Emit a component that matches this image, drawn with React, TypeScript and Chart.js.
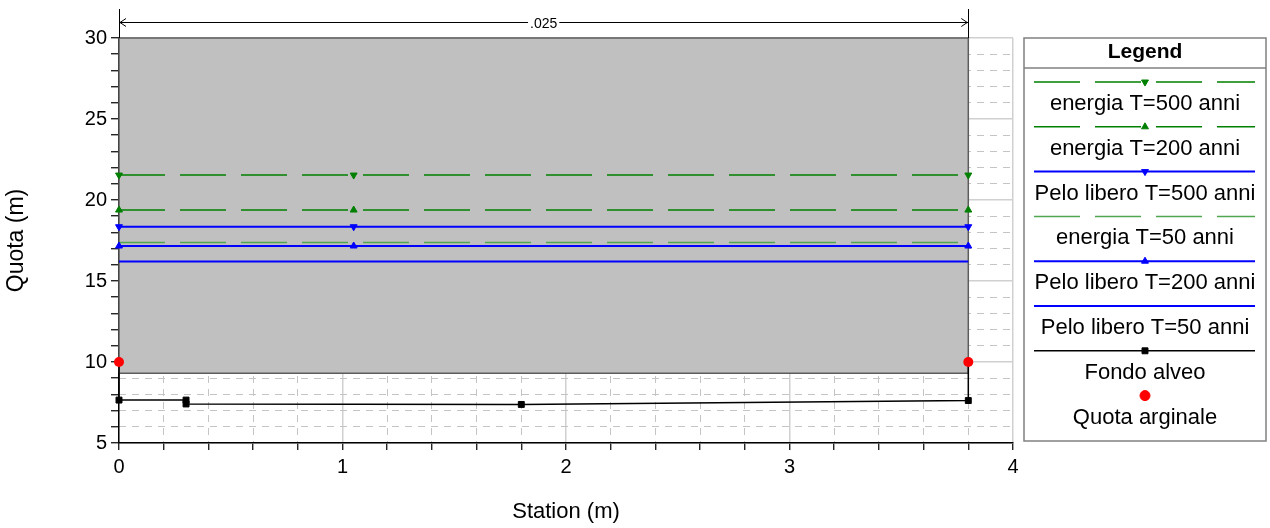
import React, { useEffect, useRef } from 'react';
import { Chart, registerables } from 'chart.js';

Chart.register(...registerables);

// ---------------- data ----------------
const wsStations = [0, 1.05, 3.8];
const energia500 = [21.54, 21.54, 21.54];
const energia200 = [19.38, 19.38, 19.38];
const pelo500 = [18.35, 18.35, 18.35];
const energia50 = [17.37, 17.37, 17.37];
const pelo200 = [17.16, 17.16, 17.16];
const pelo50 = [16.21, 16.21, 16.21];

const groundStations = [0, 0, 0.3, 0.3, 1.8, 3.8, 3.8];
const groundElev = [10.0, 7.65, 7.65, 7.41, 7.38, 7.62, 10.0];

const bankStations = [0, 3.8];
const bankElev = [10.0, 10.0];

const deckStations = [0, 3.8];
const deckHigh = [30, 30];
const deckLow = [9.3, 9.3];

const manningStations = [0, 3.8];
const manningLabels = ['.025'];

const xTickValues = [0, 1, 2, 3, 4];
const xTickLabels = ['0', '1', '2', '3', '4'];
const yTickValues = [5, 10, 15, 20, 25, 30];
const yTickLabels = ['5', '10', '15', '20', '25', '30'];

const legendOrder = [
  'energia T=500 anni',
  'energia T=200 anni',
  'Pelo libero T=500 anni',
  'energia T=50 anni',
  'Pelo libero T=200 anni',
  'Pelo libero T=50 anni',
  'Fondo alveo',
  'Quota arginale',
];

// ---------------- helpers ----------------
const FONT = '"Liberation Sans", Arial, sans-serif';
const near = (a: number, b: number) => Math.abs(a - b) < 1e-6;
const xLabelFor = (v: number) => {
  const i = xTickValues.findIndex((t) => near(t, v));
  return i >= 0 ? xTickLabels[i] : '';
};
const yLabelFor = (v: number) => {
  const i = yTickValues.findIndex((t) => near(t, v));
  return i >= 0 ? yTickLabels[i] : '';
};
const pts = (xs: number[], ys: number[]) => xs.map((x, i) => ({ x, y: ys[i] }));

const GREEN = '#008000';
const LGREEN = '#4fa84f';
const BLUE = '#0000ff';
const MAJOR = '#d0d0d0';
const MINOR = '#c4c4c4';
const NONE = 'rgba(0,0,0,0)';

function drawMarker(ctx: CanvasRenderingContext2D, style: string, x: number, y: number, r: number, rot: number, color: string) {
  ctx.save();
  ctx.fillStyle = color;
  ctx.strokeStyle = color;
  ctx.lineWidth = 1;
  ctx.beginPath();
  if (style === 'triangle') {
    let a = (rot * Math.PI) / 180;
    for (let k = 0; k < 3; k++) {
      const px = x + Math.sin(a) * r;
      const py = y - Math.cos(a) * r;
      if (k === 0) ctx.moveTo(px, py);
      else ctx.lineTo(px, py);
      a += (2 * Math.PI) / 3;
    }
    ctx.closePath();
  } else if (style === 'rect') {
    const s = r * Math.SQRT1_2;
    ctx.rect(x - s, y - s, 2 * s, 2 * s);
  } else {
    ctx.arc(x, y, r, 0, Math.PI * 2);
  }
  ctx.fill();
  ctx.stroke();
  ctx.restore();
}

const decorPlugin = {
  id: 'decor',
  afterDraw(chart: any) {
    const ctx: CanvasRenderingContext2D = chart.ctx;
    const xs = chart.scales.x;
    const top = chart.chartArea.top;

    // Manning n dimension line
    const xa = xs.getPixelForValue(manningStations[0]);
    const xb = xs.getPixelForValue(manningStations[1]);
    const yDim = 22.5;
    ctx.save();
    ctx.strokeStyle = '#000';
    ctx.lineWidth = 1;
    [xa, xb].forEach((px) => {
      ctx.beginPath();
      ctx.moveTo(Math.round(px) + 0.5, 9);
      ctx.lineTo(Math.round(px) + 0.5, top);
      ctx.stroke();
    });
    ctx.beginPath();
    ctx.moveTo(xa, yDim);
    ctx.lineTo(xb, yDim);
    ctx.stroke();
    ctx.beginPath();
    ctx.moveTo(xa + 7, yDim - 4);
    ctx.lineTo(xa + 1, yDim);
    ctx.lineTo(xa + 7, yDim + 4);
    ctx.moveTo(xb - 7, yDim - 4);
    ctx.lineTo(xb - 1, yDim);
    ctx.lineTo(xb - 7, yDim + 4);
    ctx.stroke();
    ctx.font = `14px ${FONT}`;
    const label = manningLabels[0];
    const mid = (xa + xb) / 2;
    const w = ctx.measureText(label).width;
    ctx.fillStyle = '#fff';
    ctx.fillRect(mid - w / 2 - 2, yDim - 6, w + 4, 13);
    ctx.fillStyle = '#000';
    ctx.textAlign = 'center';
    ctx.textBaseline = 'middle';
    ctx.fillText(label, mid, yDim + 2);
    ctx.restore();

    // Legend
    const L = 1024, R = 1266, T = 38, B = 441;
    const cx = (L + R) / 2;
    ctx.save();
    ctx.fillStyle = '#fff';
    ctx.fillRect(L, T, R - L, B - T);
    ctx.strokeStyle = '#808080';
    ctx.lineWidth = 1.5;
    ctx.strokeRect(L, T, R - L, B - T);
    ctx.beginPath();
    ctx.moveTo(L, 68);
    ctx.lineTo(R, 68);
    ctx.stroke();
    ctx.fillStyle = '#000';
    ctx.textAlign = 'center';
    ctx.textBaseline = 'middle';
    ctx.font = `bold 21px ${FONT}`;
    ctx.fillText('Legend', cx, 52.5);
    ctx.font = `22px ${FONT}`;
    legendOrder.forEach((lab, i) => {
      const ds = chart.data.datasets.find((d: any) => d.label === lab);
      if (!ds) return;
      const ly = 82 + i * 44.8;
      const ty = 104 + i * 44.8;
      if (ds.showLine !== false) {
        ctx.save();
        ctx.strokeStyle = ds.borderColor;
        ctx.lineWidth = ds.borderWidth;
        ctx.setLineDash(ds.borderDash || []);
        ctx.beginPath();
        ctx.moveTo(1034, ly);
        ctx.lineTo(1255, ly);
        ctx.stroke();
        ctx.restore();
      }
      if (ds.pointRadius > 0) {
        drawMarker(ctx, ds.pointStyle, cx, ly, ds.pointRadius, ds.pointRotation || 0, ds.pointBackgroundColor);
      }
      ctx.fillStyle = '#000';
      ctx.fillText(lab, cx, ty);
    });
    ctx.restore();
  },
};

export default function App() {
  const ref = useRef<HTMLCanvasElement | null>(null);

  useEffect(() => {
    if (!ref.current) return;
    const line = (label: string, ys: number[], color: string, width: number, dash: number[], style: string, radius: number, rot: number, order: number) => ({
      label,
      data: pts(wsStations, ys),
      borderColor: color,
      borderWidth: width,
      borderDash: dash,
      pointStyle: style,
      pointRadius: radius,
      pointRotation: rot,
      pointBackgroundColor: color,
      pointBorderColor: color,
      pointBorderWidth: 1,
      fill: false,
      clip: false,
      order,
    });

    const chart = new Chart(ref.current, {
      type: 'line',
      data: {
        datasets: [
          {
            label: 'deckFill',
            data: pts(deckStations, deckHigh),
            fill: { value: deckLow[0] },
            backgroundColor: '#c0c0c0',
            borderColor: NONE,
            borderWidth: 0,
            pointRadius: 0,
            clip: false,
            order: 30,
          } as any,
          {
            label: 'deckOutline',
            data: [
              { x: deckStations[0], y: deckLow[0] },
              { x: deckStations[0], y: deckHigh[0] },
              { x: deckStations[1], y: deckHigh[1] },
              { x: deckStations[1], y: deckLow[1] },
              { x: deckStations[0], y: deckLow[0] },
            ],
            fill: false,
            borderColor: '#5c5c5c',
            borderWidth: 1.5,
            pointRadius: 0,
            clip: false,
            order: 29,
          } as any,
          line('energia T=500 anni', energia500, GREEN, 1.5, [46, 15], 'triangle', 4, 180, 10),
          line('energia T=200 anni', energia200, GREEN, 1.5, [46, 15], 'triangle', 4, 0, 9),
          line('Pelo libero T=500 anni', pelo500, BLUE, 2, [], 'triangle', 4, 180, 8),
          line('energia T=50 anni', energia50, LGREEN, 1.5, [46, 15], 'circle', 0, 0, 7),
          line('Pelo libero T=200 anni', pelo200, BLUE, 2, [], 'triangle', 4, 0, 6),
          line('Pelo libero T=50 anni', pelo50, BLUE, 2, [], 'circle', 0, 0, 5),
          {
            label: 'Fondo alveo',
            data: pts(groundStations, groundElev),
            borderColor: '#000',
            borderWidth: 1.5,
            pointStyle: 'rect',
            pointRadius: 4.2,
            pointBackgroundColor: '#000',
            pointBorderColor: '#000',
            pointBorderWidth: 1,
            fill: false,
            clip: false,
            order: 2,
          } as any,
          {
            label: 'Quota arginale',
            data: pts(bankStations, bankElev),
            showLine: false,
            borderColor: '#ff0000',
            borderWidth: 0,
            pointStyle: 'circle',
            pointRadius: 5,
            pointBackgroundColor: '#ff0000',
            pointBorderColor: '#ff0000',
            pointBorderWidth: 0,
            fill: false,
            clip: false,
            order: 1,
          } as any,
        ],
      },
      options: {
        responsive: false,
        maintainAspectRatio: false,
        animation: false,
        layout: { padding: { left: 0, top: 38, right: 257, bottom: 0 } },
        plugins: {
          legend: { display: false },
          tooltip: { enabled: false },
          title: { display: false },
        },
        elements: { line: { tension: 0 } },
        scales: {
          x: {
            type: 'linear',
            position: 'bottom',
            min: 0,
            max: 4,
            afterFit: (s: any) => {
              s.height = 85;
            },
            ticks: {
              stepSize: 0.2,
              autoSkip: false,
              maxRotation: 0,
              color: '#000',
              padding: 5,
              font: { family: FONT, size: 20 },
              callback: (v: any) => xLabelFor(Number(v)),
            },
            grid: {
              color: (c: any) => (c.tick && xTickValues.some((t) => near(t, c.tick.value)) ? MAJOR : NONE),
              lineWidth: 1.5,
              tickColor: '#000',
              tickLength: 7,
              tickWidth: 1.2,
            },
            border: { color: '#000', width: 1.5 },
            title: {
              display: true,
              text: 'Station (m)',
              color: '#000',
              font: { family: FONT, size: 22 },
              padding: { top: 0, bottom: 3 },
            },
          },
          x2: {
            type: 'linear',
            position: 'bottom',
            min: 0,
            max: 4,
            afterFit: (s: any) => {
              s.height = 0;
            },
            ticks: { display: false, stepSize: 0.2, autoSkip: false },
            grid: {
              drawTicks: false,
              color: (c: any) => (c.tick && !xTickValues.some((t) => near(t, c.tick.value)) ? MINOR : NONE),
              lineWidth: 1,
            },
            border: { display: false, dash: [7, 6] },
          },
          y: {
            type: 'linear',
            position: 'left',
            min: 5,
            max: 30,
            afterFit: (s: any) => {
              s.width = 119;
            },
            ticks: {
              stepSize: 1,
              autoSkip: false,
              color: '#000',
              padding: 4,
              font: { family: FONT, size: 20 },
              callback: (v: any) => yLabelFor(Number(v)),
            },
            grid: {
              color: (c: any) => (c.tick && yTickValues.some((t) => near(t, c.tick.value)) ? MAJOR : NONE),
              lineWidth: 1.5,
              tickColor: '#000',
              tickLength: 8,
              tickWidth: 1.2,
            },
            border: { color: '#000', width: 1.5 },
            title: {
              display: true,
              text: 'Quota (m)',
              color: '#000',
              font: { family: FONT, size: 23 },
              padding: { top: 3, bottom: 0 },
            },
          },
          y2: {
            type: 'linear',
            position: 'left',
            min: 5,
            max: 30,
            afterFit: (s: any) => {
              s.width = 0;
            },
            ticks: { display: false, stepSize: 1, autoSkip: false },
            grid: {
              drawTicks: false,
              color: (c: any) => (c.tick && !yTickValues.some((t) => near(t, c.tick.value)) ? MINOR : NONE),
              lineWidth: 1,
            },
            border: { display: false, dash: [7, 6] },
          },
        },
      } as any,
      plugins: [decorPlugin],
    });
    return () => chart.destroy();
  }, []);

  return (
    <div style={{ position: 'fixed', left: 0, top: 0, width: 1270, height: 528, background: '#fff' }}>
      <canvas ref={ref} width={1270} height={528} style={{ display: 'block' }} />
    </div>
  );
}
